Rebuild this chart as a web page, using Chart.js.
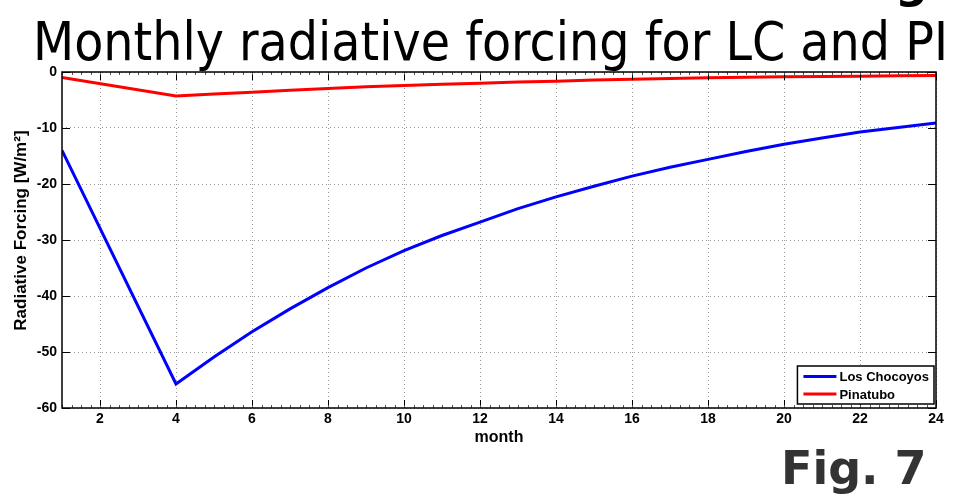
<!DOCTYPE html>
<html>
<head>
<meta charset="utf-8">
<script src="https://cdn.jsdelivr.net/npm/chart.js@4.4.1/dist/chart.umd.min.js"></script>
<style>
  html, body { margin: 0; padding: 0; background: #ffffff; overflow: hidden; }
  #wrap { position: relative; width: 967px; height: 498px; }
  #c { position: absolute; left: 0; top: 0; }
  .overlay { position: absolute; white-space: nowrap; line-height: 1; transform-origin: 0 0; }
  #title { font-family: "DejaVu Sans", Verdana, sans-serif; font-size: 54px; color: #000; left: 33px; top: 15px; }
  #cut { font-family: "DejaVu Sans", Verdana, sans-serif; font-weight: bold; font-size: 46px; color: #000; left: 895px; top: -42px; }
  #fig { font-family: "DejaVu Sans", Verdana, sans-serif; font-weight: bold; font-size: 46px; color: #333333; left: 781px; top: 445px; }
</style>
</head>
<body>
<div id="wrap">
  <canvas id="c" width="967" height="498"></canvas>
  <div id="cut" class="overlay">g</div>
  <div id="title" class="overlay">Monthly radiative forcing for LC and PI</div>
  <div id="fig" class="overlay">Fig. 7</div>
</div>
<script>
// ---- data ----
const months = [1, 4, 5, 6, 7, 8, 9, 10, 11, 12, 13, 14, 15, 16, 17, 18, 19, 20, 21, 22, 23, 24];
const losChocoyos = [-14.0, -55.7, -50.9, -46.4, -42.3, -38.5, -35.0, -31.9, -29.2, -26.8, -24.4, -22.3, -20.4, -18.6, -17.0, -15.6, -14.2, -12.9, -11.8, -10.7, -9.9, -9.1];
const pinatubo = [-1.0, -4.3, -3.95, -3.6, -3.25, -2.95, -2.65, -2.4, -2.2, -2.0, -1.8, -1.64, -1.45, -1.28, -1.15, -1.04, -0.95, -0.86, -0.8, -0.75, -0.68, -0.63];
const seriesNames = ["Los Chocoyos", "Pinatubo"];
const xTickValues = [2, 4, 6, 8, 10, 12, 14, 16, 18, 20, 22, 24];
const yTickValues = [0, -10, -20, -30, -40, -50, -60];
const titleText = "Monthly radiative forcing for LC and PI";
const xTitle = "month";
const yTitle = "\u00A0\u00A0\u00A0\u00A0Radiative Forcing [W/m\u00B2]";

// fit title width to reference
(function () {
  const t = document.getElementById('title');
  t.textContent = titleText;
  const w = t.getBoundingClientRect().width;
  t.style.transform = 'scaleX(' + (915 / w) + ')';
})();

const AX_FONT = "'Liberation Sans', Arial, Helvetica, sans-serif";

const boxPlugin = {
  id: 'boxPlugin',
  afterDatasetsDraw(chart) {
    const ctx = chart.ctx;
    const a = chart.chartArea;
    const xs = chart.scales.x, ys = chart.scales.y;
    ctx.save();
    ctx.strokeStyle = '#000';
    ctx.lineWidth = 1;
    // inward major ticks
    ctx.beginPath();
    xTickValues.forEach(v => {
      const px = Math.round(xs.getPixelForValue(v)) + 0.5;
      ctx.moveTo(px, a.bottom); ctx.lineTo(px, a.bottom - 8);
      ctx.moveTo(px, a.top); ctx.lineTo(px, a.top + 8);
    });
    yTickValues.forEach(v => {
      const py = Math.round(ys.getPixelForValue(v)) + 0.5;
      ctx.moveTo(a.left, py); ctx.lineTo(a.left + 8, py);
      ctx.moveTo(a.right, py); ctx.lineTo(a.right - 8, py);
    });
    ctx.stroke();
    // minor ticks on x
    ctx.strokeStyle = '#555';
    ctx.beginPath();
    for (let v = 1; v <= 24.0001; v += 0.25) {
      const px = Math.round(xs.getPixelForValue(v)) + 0.5;
      ctx.moveTo(px, a.bottom); ctx.lineTo(px, a.bottom - 3);
      ctx.moveTo(px, a.top); ctx.lineTo(px, a.top + 3);
    }
    ctx.stroke();
    // box
    ctx.strokeStyle = '#000';
    ctx.lineWidth = 1.5;
    ctx.strokeRect(a.left, a.top, a.right - a.left, a.bottom - a.top);

    // legend (inside chart area, bottom-right)
    ctx.font = "bold 13px " + AX_FONT;
    let tw = 0;
    chart.data.datasets.forEach(d => { tw = Math.max(tw, ctx.measureText(d.label).width); });
    const bw = 6 + 33 + 3 + tw + 5;
    const bh = 38;
    const bx = a.right - 2 - bw;
    const by = a.bottom - 4 - bh;
    ctx.fillStyle = '#fff';
    ctx.fillRect(bx, by, bw, bh);
    ctx.lineWidth = 1.5;
    ctx.strokeStyle = '#000';
    ctx.strokeRect(bx, by, bw, bh);
    chart.data.datasets.forEach((d, i) => {
      const cy = by + 10.5 + i * 17.5;
      ctx.strokeStyle = d.borderColor;
      ctx.lineWidth = 3;
      ctx.beginPath();
      ctx.moveTo(bx + 6, cy); ctx.lineTo(bx + 39, cy);
      ctx.stroke();
      ctx.fillStyle = '#000';
      ctx.textBaseline = 'middle';
      ctx.textAlign = 'left';
      ctx.fillText(d.label, bx + 42, cy + 1);
    });
    ctx.restore();
  }
};

const bgPlugin = {
  id: 'bg',
  beforeDraw(chart) {
    const ctx = chart.ctx;
    ctx.save();
    ctx.fillStyle = '#fff';
    ctx.fillRect(0, 0, chart.width, chart.height);
    ctx.restore();
  }
};

new Chart(document.getElementById('c'), {
  type: 'line',
  data: {
    datasets: [
      {
        label: seriesNames[0],
        data: months.map((m, i) => ({ x: m, y: losChocoyos[i] })),
        borderColor: '#0000ff',
        backgroundColor: '#0000ff',
        borderWidth: 3,
        pointRadius: 0,
        tension: 0,
        fill: false
      },
      {
        label: seriesNames[1],
        data: months.map((m, i) => ({ x: m, y: pinatubo[i] })),
        borderColor: '#ff0000',
        backgroundColor: '#ff0000',
        borderWidth: 3,
        pointRadius: 0,
        tension: 0,
        fill: false
      }
    ]
  },
  options: {
    responsive: false,
    animation: false,
    devicePixelRatio: 1,
    layout: { padding: { top: 72, right: 31, bottom: 52, left: 0 } },
    plugins: {
      legend: { display: false },
      title: { display: false },
      tooltip: { enabled: false }
    },
    scales: {
      x: {
        type: 'linear',
        min: 1,
        max: 24,
        afterBuildTicks: s => { s.ticks = xTickValues.map(v => ({ value: v })); },
        afterFit: s => { s.height = 38; },
        ticks: {
          color: '#000',
          font: { family: AX_FONT, size: 14, weight: 'bold' },
          padding: 3,
          maxRotation: 0,
          autoSkip: false
        },
        grid: { color: '#9a9a9a', lineWidth: 1, drawTicks: false },
        border: { display: false, dash: [1, 3] },
        title: {
          display: true,
          text: xTitle,
          color: '#000',
          font: { family: AX_FONT, size: 16, weight: 'bold' },
          padding: { top: 0, bottom: -1 }
        }
      },
      y: {
        type: 'linear',
        min: -60,
        max: 0,
        afterBuildTicks: s => { s.ticks = yTickValues.map(v => ({ value: v })); },
        afterFit: s => { s.width = 62; },
        ticks: {
          color: '#000',
          font: { family: AX_FONT, size: 14, weight: 'bold' },
          padding: 5,
          autoSkip: false
        },
        grid: { color: '#9a9a9a', lineWidth: 1, drawTicks: false },
        border: { display: false, dash: [1, 3] },
        title: {
          display: true,
          text: yTitle,
          color: '#000',
          font: { family: AX_FONT, size: 17, weight: 'bold' },
          padding: { top: 11, bottom: 0 }
        }
      }
    }
  },
  plugins: [bgPlugin, boxPlugin]
});
</script>
</body>
</html>
